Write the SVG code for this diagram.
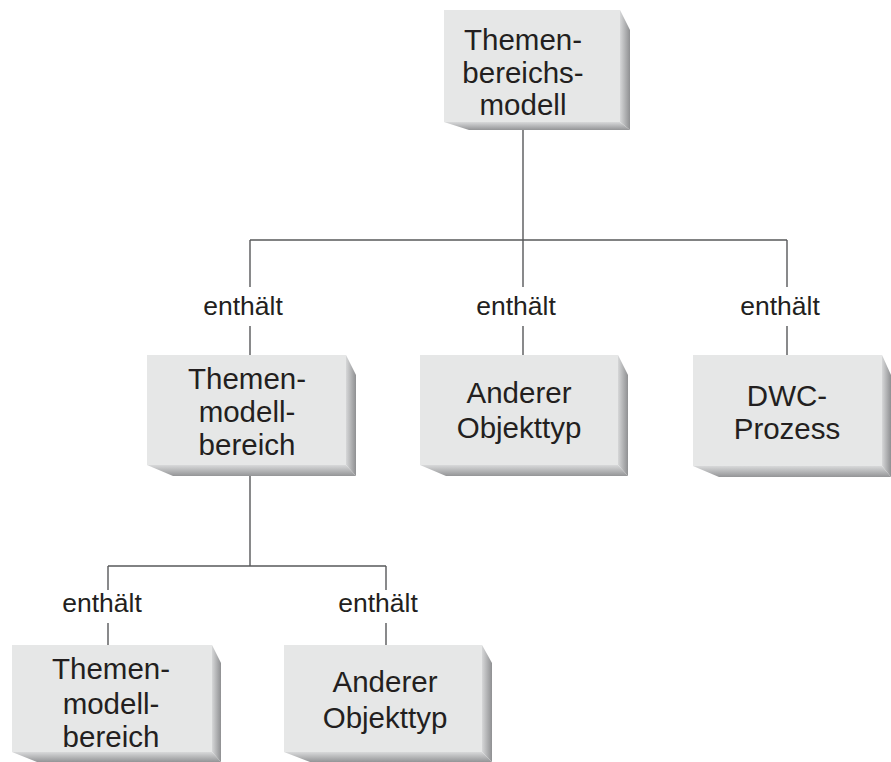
<svg xmlns="http://www.w3.org/2000/svg" width="891" height="762" viewBox="0 0 891 762">
<defs>
<linearGradient id="side" x1="0" y1="0" x2="1" y2="0">
<stop offset="0" stop-color="#d6d7d8"/>
<stop offset="1" stop-color="#8f9092"/>
</linearGradient>
<linearGradient id="bottom" x1="0" y1="0" x2="0" y2="1">
<stop offset="0" stop-color="#d8d9da"/>
<stop offset="1" stop-color="#949597"/>
</linearGradient>
<style>
.face{fill:#e6e7e7}
.side{fill:url(#side)}
.bot{fill:url(#bottom)}
.t{font-family:"Liberation Sans",Arial,sans-serif;font-size:29.5px;fill:#231f20;text-anchor:middle}
.lbl{font-family:"Liberation Sans",Arial,sans-serif;font-size:26.5px;fill:#231f20;text-anchor:middle}
.ln{stroke:#58595b;stroke-width:1.4;fill:none}
</style>
</defs>
<rect width="891" height="762" fill="#ffffff"/>
<g id="connectors">
<path class="ln" d="M523 130V240M250 240H787M250 240V287M523 240V287M787 240V287M250 326V355M523 326V355M787 326V355"/>
<path class="ln" d="M250 476V566M108 566H386M108 566V590M386 566V590M108 623V645M386 623V645"/>
<text class="lbl" x="243" y="315">enthält</text>
<text class="lbl" x="516" y="315">enthält</text>
<text class="lbl" x="780" y="315">enthält</text>
<text class="lbl" x="102" y="612">enthält</text>
<text class="lbl" x="378" y="612">enthält</text>
</g>
<g id="n-top">
<rect class="face" x="444" y="10" width="176" height="112"/>
<polygon class="side" points="620,10 630,30 630,130 620,122"/>
<polygon class="bot" points="444,122 620,122 630,130 469,130"/>
<text class="t" x="523" y="50">Themen-</text>
<text class="t" x="523" y="83">bereichs-</text>
<text class="t" x="523" y="115">modell</text>
</g>
<g id="n-mid1">
<rect class="face" x="147" y="355" width="199" height="110"/>
<polygon class="side" points="346,355 356,375 356,476 346,465"/>
<polygon class="bot" points="147,465 346,465 356,476 173,476"/>
<text class="t" x="247" y="389">Themen-</text>
<text class="t" x="247" y="422">modell-</text>
<text class="t" x="247" y="455">bereich</text>
</g>
<g id="n-mid2">
<rect class="face" x="420" y="355" width="198" height="110"/>
<polygon class="side" points="618,355 628,375 628,476 618,465"/>
<polygon class="bot" points="420,465 618,465 628,476 446,476"/>
<text class="t" x="519" y="403">Anderer</text>
<text class="t" x="519" y="438">Objekttyp</text>
</g>
<g id="n-mid3">
<rect class="face" x="693" y="355" width="189" height="111"/>
<polygon class="side" points="882,355 891,375 891,477 882,466"/>
<polygon class="bot" points="693,466 882,466 891,477 719,477"/>
<text class="t" x="787" y="406">DWC-</text>
<text class="t" x="787" y="439">Prozess</text>
</g>
<g id="n-bot1">
<rect class="face" x="12" y="645" width="200" height="107"/>
<polygon class="side" points="212,645 221,663 221,762 212,752"/>
<polygon class="bot" points="12,752 212,752 221,762 37,762"/>
<text class="t" x="111" y="679">Themen-</text>
<text class="t" x="111" y="714">modell-</text>
<text class="t" x="111" y="747">bereich</text>
</g>
<g id="n-bot2">
<rect class="face" x="284" y="645" width="198" height="107"/>
<polygon class="side" points="482,645 492,663 492,762 482,752"/>
<polygon class="bot" points="284,752 482,752 492,762 310,762"/>
<text class="t" x="385" y="692">Anderer</text>
<text class="t" x="385" y="728">Objekttyp</text>
</g>
</svg>
